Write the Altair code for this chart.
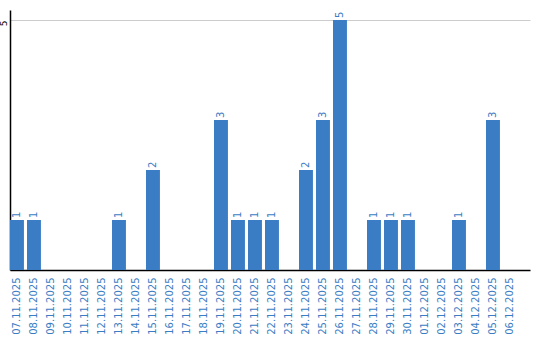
import altair as alt
import pandas as pd

dates = ["07.11.2025", "08.11.2025", "09.11.2025", "10.11.2025", "11.11.2025",
         "12.11.2025", "13.11.2025", "14.11.2025", "15.11.2025", "16.11.2025",
         "17.11.2025", "18.11.2025", "19.11.2025", "20.11.2025", "21.11.2025",
         "22.11.2025", "23.11.2025", "24.11.2025", "25.11.2025", "26.11.2025",
         "27.11.2025", "28.11.2025", "29.11.2025", "30.11.2025", "01.12.2025",
         "02.12.2025", "03.12.2025", "04.12.2025", "05.12.2025", "06.12.2025"]
counts = [1, 1, 0, 0, 0, 0, 1, 0, 2, 0, 0, 0, 3, 1, 1, 1, 0, 2, 3, 5,
          0, 1, 1, 1, 0, 0, 1, 0, 3, 0]
y_ticks = [5]

df = pd.DataFrame({"date": dates, "count": counts})
blue = "#3a7dc4"

x = alt.X("date:O", sort=None, title=None,
          scale=alt.Scale(paddingInner=0.18, paddingOuter=0.384, align=0),
          axis=alt.Axis(labelAngle=-90, labelColor=blue, labelFontSize=10,
                        labelFont="DejaVu Sans", ticks=False, labelPadding=7,
                        domainColor="black", domainWidth=1.5, grid=False))

bars = alt.Chart(df).mark_bar(color=blue).encode(
    x=x,
    y=alt.Y("count:Q", title=None,
            scale=alt.Scale(domain=[0, 5.2], nice=False),
            axis=alt.Axis(values=y_ticks, grid=True, gridColor="#cccccc",
                          ticks=False, labelAngle=-90, labelAlign="center",
                          labelBaseline="bottom", labelPadding=2,
                          labelOffset=3,
                          labelFontSize=9, labelFont="DejaVu Sans",
                          labelColor="black", domainColor="black",
                          domainWidth=1.5)),
)

labels = alt.Chart(df).transform_filter("datum.count > 0").mark_text(
    angle=270, align="left", baseline="middle", dx=2, color=blue,
    fontSize=10, font="DejaVu Sans"
).encode(
    x=alt.X("date:O", sort=None),
    y=alt.Y("count:Q"),
    text="count:Q",
)

chart = (bars + labels).properties(
    width=520, height=260,
    autosize=alt.AutoSizeParams(type="none"),
    padding={"left": 10, "top": 10, "right": 10, "bottom": 70},
).configure_view(stroke=None)

chart.save("out.html", embed_options={"renderer": "svg", "actions": False})
